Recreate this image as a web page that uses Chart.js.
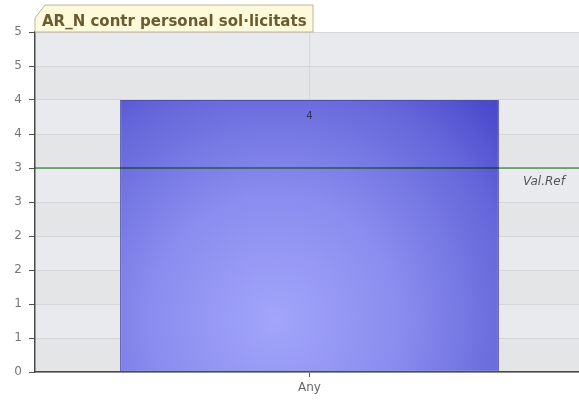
<!DOCTYPE html>
<html>
<head>
<meta charset="utf-8">
<script src="https://cdn.jsdelivr.net/npm/chart.js@4/dist/chart.umd.min.js"></script>
<style>
  html, body { margin: 0; padding: 0; background: #fff; overflow: hidden; }
  #wrap { width: 584px; height: 403px; }
</style>
</head>
<body>
<div id="wrap"><canvas id="chart_bar" width="584" height="403"></canvas></div>
<script>
// data
const categories = ['Any'];
const values = [4];
const refValue = 3;
const refLabel = 'Val.Ref';
const chartTitle = 'AR_N contr personal sol\u00B7licitats';
const yTickValues = [0, 0.5, 1, 1.5, 2, 2.5, 3, 3.5, 4, 4.5, 5];
const yTickLabels = ['0', '1', '1', '2', '2', '3', '3', '4', '4', '5', '5'];

const FONT = '"DejaVu Sans", Verdana, sans-serif';

// striped plot background
const bandsPlugin = {
    id: 'bands',
    beforeDraw(chart) {
        const {ctx, chartArea: a, scales: {y}} = chart;
        ctx.save();
        for (let i = 0; i < yTickValues.length - 1; i++) {
            const y0 = y.getPixelForValue(yTickValues[i]);
            const y1 = y.getPixelForValue(yTickValues[i + 1]);
            ctx.fillStyle = i % 2 === 0 ? '#e4e5e7' : '#e9eaed';
            ctx.fillRect(a.left, y1, a.right - a.left, y0 - y1);
        }
        ctx.restore();
    }
};

// reference line, value label
const overlayPlugin = {
    id: 'overlay',
    afterDatasetsDraw(chart) {
        const {ctx, chartArea: a, scales: {x, y}} = chart;
        ctx.save();
        // value on the bar
        ctx.font = '10px ' + FONT;
        ctx.fillStyle = '#333355';
        ctx.textAlign = 'center';
        ctx.textBaseline = 'middle';
        values.forEach((v, i) => {
            ctx.fillText(String(v), x.getPixelForValue(i), y.getPixelForValue(v) + 16);
        });
        // reference line
        const ry = y.getPixelForValue(refValue);
        ctx.globalCompositeOperation = 'multiply';
        ctx.strokeStyle = '#52b052';
        ctx.lineWidth = 1.6;
        ctx.beginPath();
        ctx.moveTo(a.left, ry);
        ctx.lineTo(a.right, ry);
        ctx.stroke();
        ctx.globalCompositeOperation = 'source-over';
        ctx.font = 'italic 12px ' + FONT;
        ctx.fillStyle = '#555';
        ctx.textAlign = 'left';
        ctx.fillText(refLabel, 523, ry + 14);
        ctx.restore();
    }
};

// title tab above the plot
const tabPlugin = {
    id: 'tab',
    afterDraw(chart) {
        const {ctx, chartArea: a} = chart;
        const l = a.left, b = a.top, t = 5, r = 313;
        ctx.save();
        ctx.beginPath();
        ctx.moveTo(l, b);
        ctx.lineTo(l, t + 13);
        ctx.lineTo(l + 10, t);
        ctx.lineTo(r, t);
        ctx.lineTo(r, b);
        ctx.closePath();
        ctx.fillStyle = '#fdf9db';
        ctx.fill();
        ctx.strokeStyle = '#bdb59c';
        ctx.lineWidth = 1;
        ctx.stroke();
        ctx.font = 'bold 15px ' + FONT;
        ctx.fillStyle = '#6b5c30';
        ctx.textAlign = 'left';
        ctx.textBaseline = 'alphabetic';
        ctx.fillText(chartTitle, l + 7, 26, r - l - 11);
        ctx.restore();
    }
};

function barFill(context) {
    const chart = context.chart;
    const a = chart.chartArea;
    if (!a) return '#7f80e0';
    const g = chart.ctx.createRadialGradient(275, 320, 0, 275, 320, 350);
    g.addColorStop(0, '#a2a5fa');
    g.addColorStop(0.35, '#8b8def');
    g.addColorStop(0.7, '#6465d9');
    g.addColorStop(1, '#3434c2');
    return g;
}

new Chart('chart_bar', {
    type: 'bar',
    data: {
        labels: categories,
        datasets: [{
            data: values,
            backgroundColor: barFill,
            borderColor: '#4d4fae',
            borderWidth: 1,
            borderSkipped: false,
            categoryPercentage: 0.69,
            barPercentage: 1
        }]
    },
    plugins: [bandsPlugin, overlayPlugin, tabPlugin],
    options: {
        responsive: false,
        animation: false,
        events: [],
        layout: {padding: {top: 32, left: 0, right: 0, bottom: 0}},
        plugins: {legend: {display: false}, tooltip: {enabled: false}, title: {display: false}},
        scales: {
            x: {
                grid: {offset: false, color: '#d7d7da', tickColor: '#555', tickLength: 5},
                border: {color: '#4a4a4a', width: 1.5},
                ticks: {color: '#666', font: {family: FONT, size: 12}, padding: 4},
                afterFit(s) { s.height = 31; }
            },
            y: {
                min: 0,
                max: 5,
                afterBuildTicks(s) { s.ticks = yTickValues.map(v => ({value: v})); },
                grid: {color: '#d5d5d8', tickColor: '#555', tickLength: 6},
                border: {color: '#4a4a4a', width: 1.5},
                ticks: {
                    color: '#777',
                    font: {family: FONT, size: 12},
                    padding: 7,
                    callback(v, i) { return yTickLabels[i]; }
                },
                afterFit(s) { s.width = 35; }
            }
        }
    }
});
</script>
</body>
</html>
